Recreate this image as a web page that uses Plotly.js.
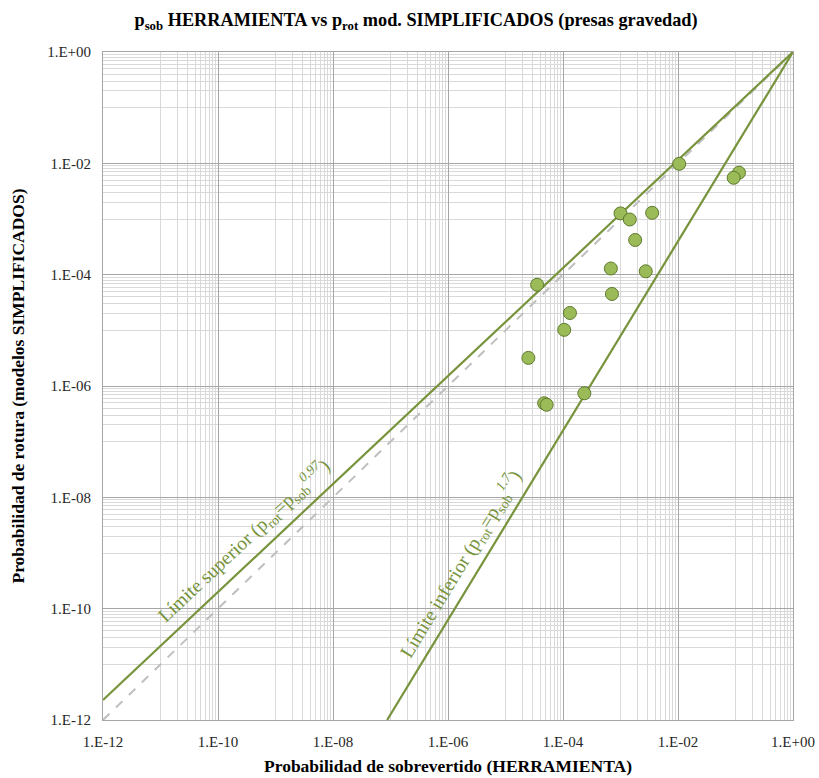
<!DOCTYPE html>
<html>
<head>
<meta charset="utf-8">
<script src="https://cdn.plot.ly/plotly-3.0.1.min.js"></script>
<style>html,body{margin:0;padding:0;background:#fff;}#chart{width:819px;height:778px;}</style>
</head>
<body>
<div id="chart"></div>
<script>
// Data (probabilities)
const pSobrevertido = [1.05e-2, 1.15e-1, 9.3e-2, 1.0e-3, 1.45e-3, 3.55e-3, 1.8e-3, 6.8e-4, 2.75e-3, 3.55e-5, 7.1e-4, 1.32e-4, 1.05e-4, 2.5e-5, 4.7e-5, 5.2e-5, 2.35e-4];
const pRotura      = [9.8e-3, 6.8e-3, 5.5e-3, 1.26e-3, 9.8e-4, 1.29e-3, 4.2e-4, 1.29e-4, 1.15e-4, 6.6e-5, 4.5e-5, 2.05e-5, 1.02e-5, 3.2e-6, 4.9e-7, 4.6e-7, 7.4e-7];

// Limit lines: p_rot = p_sob^k
const limitNames = ["Límite superior", "Límite inferior"];
const limitExponents = [0.97, 1.7];
const axisMin = 1e-12, axisMax = 1;

// Tick labels
const tickValues = [1e-12, 1e-10, 1e-8, 1e-6, 1e-4, 1e-2, 1];
const tickLabels = ["1.E-12", "1.E-10", "1.E-08", "1.E-06", "1.E-04", "1.E-02", "1.E+00"];

// minor grid positions: major unit is 100, minor lines at k*10^(e+1) inside each [10^e, 10^(e+2)]
const minorVals = [];
for (let e = -12; e < 0; e += 2) {
  for (let k = 1; k <= 9; k++) {
    minorVals.push(k * Math.pow(10, e + 1));
  }
}

const green = "#77933C";
const serif = "Liberation Serif, DejaVu Serif, serif";

function limitLine(k) {
  const xs = Math.max(axisMin, Math.pow(axisMin, 1 / k));
  return {x: [xs, axisMax], y: [Math.pow(xs, k), Math.pow(axisMax, k)]};
}
const up = limitLine(limitExponents[0]);
const lo = limitLine(limitExponents[1]);

const traces = [
  {x: [axisMin, axisMax], y: [axisMin, axisMax], mode: "lines", line: {color: "#BFBFBF", width: 2, dash: "dash"}, hoverinfo: "skip", showlegend: false},
  {x: up.x, y: up.y, mode: "lines", line: {color: green, width: 2.2}, name: limitNames[0], showlegend: false},
  {x: lo.x, y: lo.y, mode: "lines", line: {color: green, width: 2.2}, name: limitNames[1], showlegend: false},
  {x: pSobrevertido, y: pRotura, mode: "markers", marker: {size: 13, color: "#9BBB59", line: {color: "#5E7A2E", width: 1}}, showlegend: false}
];

const axisCommon = {
  type: "log",
  range: [-12, 0],
  tickmode: "array",
  tickvals: tickValues,
  ticktext: tickLabels,
  showgrid: true,
  gridcolor: "#A6A6A6",
  gridwidth: 1,
  zeroline: false,
  showline: true,
  linecolor: "#A6A6A6",
  linewidth: 1,
  mirror: true,
  ticks: "",
  ticklabelstandoff: 8,
  tickfont: {family: serif, size: 15, color: "#262626"},
  minor: {tickmode: "array", tickvals: minorVals, showgrid: true, gridcolor: "#D9D9D9", gridwidth: 1, ticks: ""}
};

const layout = {
  width: 819, height: 778,
  paper_bgcolor: "#ffffff", plot_bgcolor: "#ffffff",
  margin: {l: 103, r: 26, t: 52, b: 58},
  title: {
    text: "<b>p<sub>sob</sub> HERRAMIENTA vs p<sub>rot</sub> mod. SIMPLIFICADOS (presas gravedad)</b>",
    font: {family: serif, size: 18.3, color: "#000"},
    x: 0.508, xanchor: "center", xref: "container",
    y: 0.975, yanchor: "middle", yref: "container"
  },
  xaxis: Object.assign({}, axisCommon, {
    title: {text: "<b>Probabilidad de sobrevertido (HERRAMIENTA)</b>", font: {family: serif, size: 17.5, color: "#000"}, standoff: 10}
  }),
  yaxis: Object.assign({}, axisCommon, {
    title: {text: "<b>Probabilidad de rotura (modelos SIMPLIFICADOS)</b>", font: {family: serif, size: 17.5, color: "#000"}, standoff: 18}
  }),
  annotations: [
    {x: -9.55, y: -8.77, xref: "x", yref: "y", showarrow: false, textangle: -43.2,
     text: "Límite superior (p<sub>rot</sub>=p<sub>sob</sub><sup><i>0.97</i></sup>)",
     font: {family: serif, size: 19.5, color: green}, xanchor: "center", yanchor: "middle"},
    {x: -5.79, y: -9.2, xref: "x", yref: "y", showarrow: false, textangle: -58.7,
     text: "Límite inferior (p<sub>rot</sub>=p<sub>sob</sub><sup><i>1.7</i></sup>)",
     font: {family: serif, size: 19.5, color: green}, xanchor: "center", yanchor: "middle"}
  ]
};

Plotly.newPlot("chart", traces, layout, {displayModeBar: false, staticPlot: true});
</script>
</body>
</html>
